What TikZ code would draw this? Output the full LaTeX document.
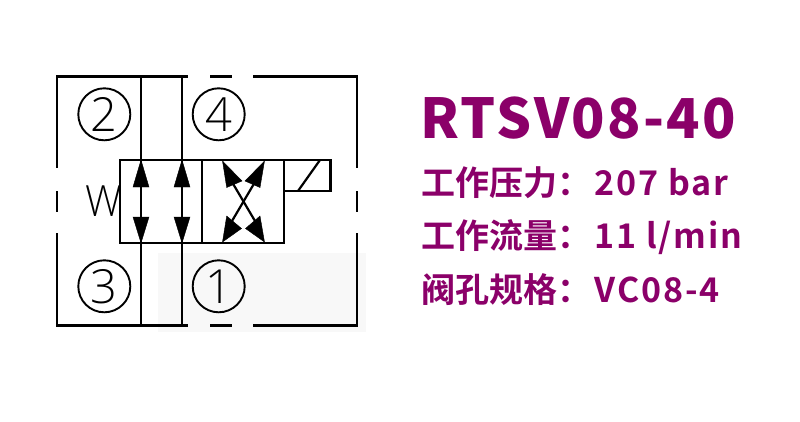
\documentclass[tikz,border=0pt]{standalone}
\usepackage{fontspec}
\setmainfont{Open Sans Light}
\newfontfamily\cjk{Noto Sans CJK SC Bold}
\newfontfamily\heavy{Noto Sans CJK SC Black}[LetterSpace=4.2]
\newfontfamily\latn{Noto Sans CJK SC Bold}[LetterSpace=5.5]
\definecolor{brandc}{HTML}{8B0069}
\definecolor{paleg}{HTML}{F8F8F8}
\tikzset{
  line/.style={draw=black,line width=2.2pt},
  vline/.style={draw=black,line width=2.9pt},
  port/.style={circle,draw=black,line width=1.9pt,minimum size=52pt,inner sep=0pt,font=\fontsize{47}{47}\selectfont},
  tip/.style={fill=black,draw=black,line width=.4pt,line join=miter},
  title/.style={anchor=base west,inner sep=0pt,text=brandc,font=\heavy\fontsize{55}{55}\selectfont},
  spec/.style={anchor=base west,inner sep=0pt,text=brandc,font=\cjk\fontsize{34}{34}\selectfont},
}
\newcommand{\lat}[1]{\hspace{3.5pt}{\latn #1}}
\begin{document}
\begin{tikzpicture}[x=1pt,y=-1pt]
\useasboundingbox (0,0) rectangle (800,421);
\fill[white] (0,0) rectangle (800,421);
\fill[paleg] (157.5,252.5) rectangle (366,331.5);
% frame: horizontal runs
\draw[line] (56,76.5) -- (188,76.5);
\draw[line] (210,76.5) -- (232,76.5);
\draw[line] (253,76.5) -- (358,76.5);
\draw[line] (56,325.5) -- (188,325.5);
\draw[line] (210,325.5) -- (232,325.5);
\draw[line] (253,325.5) -- (358,325.5);
% frame: vertical runs
\draw[vline] (57,76.5) -- (57,168);
\draw[vline] (357,76.5) -- (357,168);
\draw[vline] (57,233) -- (57,325.5);
\draw[vline] (357,233) -- (357,325.5);
\draw[vline] (57,191) -- (57,212);
\draw[vline] (357,191) -- (357,212);
% through lines
\draw[vline] (141,76.5) -- (141,325.5);
\draw[vline] (182,76.5) -- (182,325.5);
% valve
\draw[line] (119,160) -- (285,160);
\draw[line] (119,242.7) -- (285,242.7);
\draw[vline] (120,160) -- (120,242.7);
\draw[vline] (284,160) -- (284,242.7);
\draw[vline] (202,160) -- (202,242.7);
\draw[line] (284,160) -- (331.5,160);
\draw[line] (284,191) -- (331.5,191);
\draw[vline] (330.5,160) -- (330.5,191);
\draw[line] (298,191) -- (320,160);
% crossing
\draw[line] (232,182) -- (255,221);
\draw[line] (255,182) -- (232,221);
% arrowheads
\foreach \x in {141,182}{
  \fill[tip] (\x,160) -- (\x+8,187) -- (\x-8,187) -- cycle;
  \fill[tip] (\x,243) -- (\x+8,217) -- (\x-8,217) -- cycle;
}
\fill[tip] (222.5,161) -- (226.7,187.5) -- (242,181) -- cycle;
\fill[tip] (264.5,161) -- (260,187.5) -- (245,181) -- cycle;
\fill[tip] (222.5,242) -- (226.7,216) -- (241.5,228.5) -- cycle;
\fill[tip] (264.5,242) -- (260,216) -- (245.5,228.5) -- cycle;
% ports
\node[port] (p2) at (104.3,114.3) {2};
\node[port] (p4) at (218.7,114.3) {4};
\node[port] (p3) at (104.3,286.3) {3};
\node[port] (p1) at (218.7,286.3) {1};
\node[inner sep=0pt,font=\fontsize{43}{43}\selectfont] (w) at (104,201.5) {\scalebox{.95}[1]{W}};
% texts
\node[title] (t0) at (420.5,138) {RTSV08-40};
\node[spec] (t1) at (421,195) {工作压力：\lat{207 bar}};
\node[spec] (t2) at (421,248) {工作流量：\lat{11 l/min}};
\node[spec] (t3) at (421,302.5) {阀孔规格：\lat{VC08-4}};
\end{tikzpicture}
\end{document}
